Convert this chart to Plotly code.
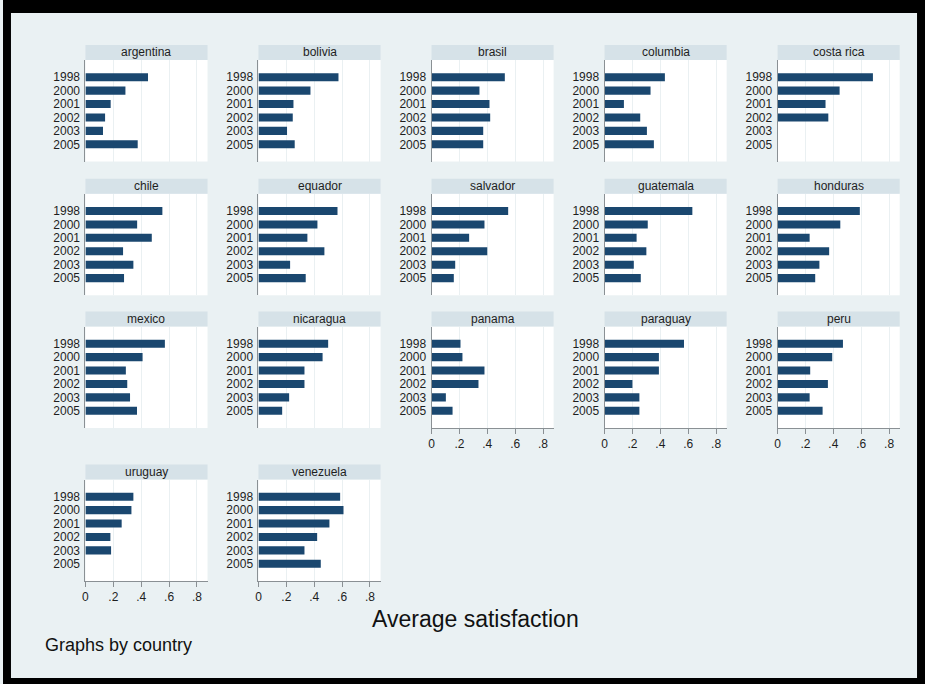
import plotly.graph_objects as go

# ---------------- data ----------------
years = ["1998", "2000", "2001", "2002", "2003", "2005"]
countries = ["argentina", "bolivia", "brasil", "columbia", "costa rica",
             "chile", "equador", "salvador", "guatemala", "honduras",
             "mexico", "nicaragua", "panama", "paraguay", "peru",
             "uruguay", "venezuela"]

argentina = [0.449, 0.287, 0.181, 0.141, 0.126, 0.375]
bolivia = [0.574, 0.373, 0.251, 0.246, 0.205, 0.260]
brasil = [0.526, 0.344, 0.416, 0.421, 0.371, 0.371]
columbia = [0.433, 0.330, 0.139, 0.256, 0.304, 0.354]
costa_rica = [0.684, 0.445, 0.344, 0.364, None, None]
chile = [0.552, 0.371, 0.476, 0.270, 0.344, 0.277]
equador = [0.567, 0.423, 0.351, 0.473, 0.227, 0.339]
salvador = [0.55, 0.38, 0.27, 0.40, 0.17, 0.16]
guatemala = [0.63, 0.31, 0.23, 0.30, 0.21, 0.26]
honduras = [0.59, 0.45, 0.23, 0.37, 0.30, 0.27]
mexico = [0.57, 0.41, 0.29, 0.30, 0.32, 0.37]
nicaragua = [0.50, 0.46, 0.33, 0.33, 0.22, 0.17]
panama = [0.208, 0.222, 0.380, 0.337, 0.103, 0.151]
paraguay = [0.57, 0.39, 0.39, 0.20, 0.25, 0.25]
peru = [0.469, 0.392, 0.234, 0.361, 0.230, 0.323]
uruguay = [0.344, 0.330, 0.260, 0.179, 0.184, None]
venezuela = [0.586, 0.610, 0.509, 0.421, 0.330, 0.447]

values = [argentina, bolivia, brasil, columbia, costa_rica,
          chile, equador, salvador, guatemala, honduras,
          mexico, nicaragua, panama, paraguay, peru,
          uruguay, venezuela]

x_tickvals = [0, 0.2, 0.4, 0.6, 0.8]
x_ticktext = ["0", ".2", ".4", ".6", ".8"]
x_title = "Average satisfaction"
note = "Graphs by country"

# panels that carry the x axis
bottom_panels = {"panama", "paraguay", "peru", "uruguay", "venezuela"}

# ---------------- layout geometry (pixels) ----------------
W, H = 925, 684
col_x0 = [82.7 + 173.6 * c for c in range(5)]
plot_w = 122.5
row_top = [60.0, 193.8, 326.5, 479.5]
plot_h = 101.5
strip_h = 15.0

BAR = "#1a476f"
BG = "#eaf1f3"
STRIP = "#d6e2e8"
GRID = "#eaf0f2"
AXIS = "#8a9094"
FONT = "Liberation Sans"
TXT = "#1e1e1e"

def px(x):
    return x / W

def py(y):
    return 1 - y / H

fig = go.Figure()
shapes = []
annotations = []
layout_axes = {}

for i, (name, vals) in enumerate(zip(countries, values)):
    r, c = divmod(i, 5)
    x0 = col_x0[c]
    x1 = x0 + plot_w
    top = row_top[r]
    bot = top + plot_h
    n = i + 1
    xa = "x" if n == 1 else f"x{n}"
    ya = "y" if n == 1 else f"y{n}"
    fig.add_trace(go.Bar(
        x=vals, y=years, orientation="h",
        marker=dict(color=BAR, line=dict(width=0)),
        width=0.6, xaxis=xa, yaxis=ya, showlegend=False,
        hoverinfo="x+y",
    ))
    is_bottom = name in bottom_panels
    layout_axes["xaxis" if n == 1 else f"xaxis{n}"] = dict(
        domain=[px(x0), px(x1)], anchor=ya, range=[0, 0.876],
        tickmode="array", tickvals=x_tickvals, ticktext=x_ticktext,
        showgrid=True, gridcolor=GRID, gridwidth=1, zeroline=False,
        showline=is_bottom, linecolor=AXIS, linewidth=1,
        ticks="outside" if is_bottom else "", ticklen=5, tickcolor=AXIS,
        showticklabels=is_bottom,
        tickfont=dict(family=FONT, size=12, color=TXT),
        fixedrange=True,
    )
    layout_axes["yaxis" if n == 1 else f"yaxis{n}"] = dict(
        domain=[py(bot), py(top)], anchor=xa, type="category",
        categoryorder="array", categoryarray=years,
        tickmode="array", tickvals=years, ticktext=years,
        range=[5 + 1.28, -1.28],
        showgrid=False, zeroline=False, showline=True,
        linecolor=AXIS, linewidth=1, ticks="",
        ticklabelstandoff=2,
        tickfont=dict(family=FONT, size=12, color=TXT),
        fixedrange=True,
    )
    # title strip
    shapes.append(dict(type="rect", xref="paper", yref="paper",
                       x0=px(x0), x1=px(x1), y0=py(top), y1=py(top - strip_h),
                       fillcolor=STRIP, line=dict(width=0), layer="below"))
    annotations.append(dict(text=name, xref="paper", yref="paper",
                            x=px((x0 + x1) / 2), y=py(top - strip_h / 2),
                            xanchor="center", yanchor="middle", showarrow=False,
                            font=dict(family=FONT, size=12, color=TXT)))

annotations.append(dict(text=x_title, xref="paper", yref="paper",
                        x=px(474), y=py(619), xanchor="center", yanchor="middle",
                        showarrow=False,
                        font=dict(family=FONT, size=23, color="#111111")))
annotations.append(dict(text=note, xref="paper", yref="paper",
                        x=px(40), y=py(645), xanchor="left", yanchor="middle",
                        showarrow=False,
                        font=dict(family=FONT, size=18, color="#111111")))

# black frame around the picture
for (bx0, bx1, by0, by1) in [(0, W, 0, 13), (0, W, 678, H), (0, 8, 0, H), (917, W, 0, H)]:
    shapes.append(dict(type="rect", xref="paper", yref="paper",
                       x0=px(bx0), x1=px(bx1), y0=py(by1), y1=py(by0),
                       fillcolor="black", line=dict(width=0), layer="above"))

fig.update_layout(
    width=W, height=H,
    margin=dict(l=0, r=0, t=0, b=0),
    paper_bgcolor=BG, plot_bgcolor="white",
    shapes=shapes, annotations=annotations,
    bargap=0.4,
    **layout_axes,
)

fig.write_html("out.html", config={"displayModeBar": False},
               post_script="document.body.style.margin='0';document.body.style.overflow='hidden';")
